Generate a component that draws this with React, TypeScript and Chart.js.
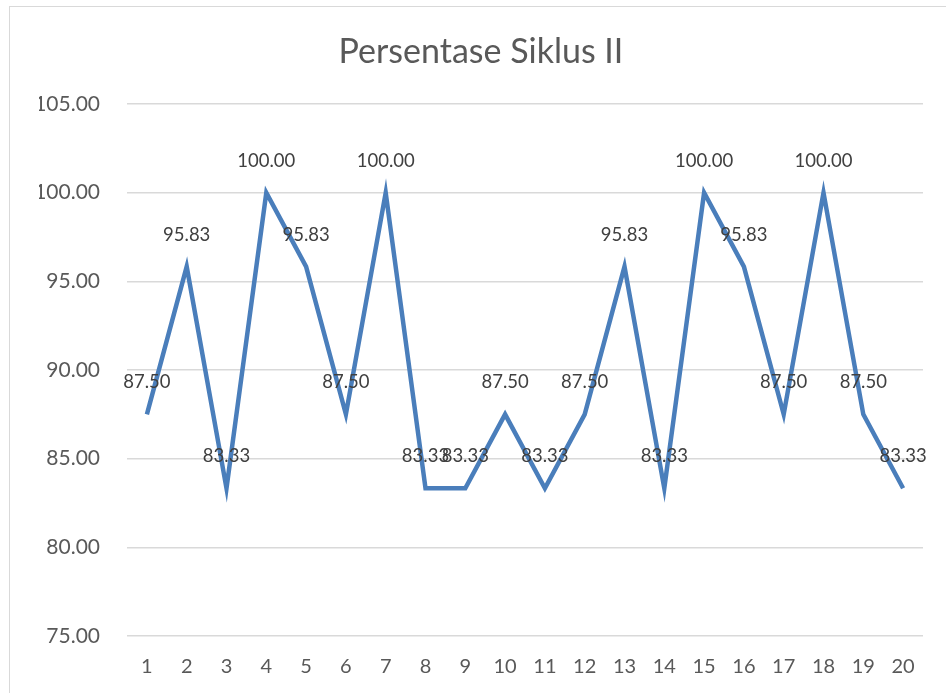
import React, { useEffect, useRef } from "react";
import { Chart, registerables } from "chart.js";

Chart.register(...registerables);

const categories = ["1","2","3","4","5","6","7","8","9","10","11","12","13","14","15","16","17","18","19","20"];
const values = [87.5, 95.83, 83.33, 100, 95.83, 87.5, 100, 83.33, 83.33, 87.5, 83.33, 87.5, 95.83, 83.33, 100, 95.83, 87.5, 100, 87.5, 83.33];
const titleText = "Persentase Siklus II";
const yMin = 75;
const yMax = 105;
const yStep = 5;

const FONT = "Lato, 'Open Sans', sans-serif";

const dataLabelPlugin = {
  id: "dataLabels",
  afterDatasetsDraw(chart: any) {
    const ctx = chart.ctx;
    const meta = chart.getDatasetMeta(0);
    ctx.save();
    ctx.font = `18.5px ${FONT}`;
    ctx.fillStyle = "#404040";
    ctx.textAlign = "center";
    ctx.textBaseline = "middle";
    meta.data.forEach((pt: any, i: number) => {
      const v = chart.data.datasets[0].data[i] as number;
      ctx.fillText(v.toFixed(2), pt.x, pt.y - 32);
    });
    ctx.restore();
  },
};

export default function App() {
  const ref = useRef<HTMLCanvasElement | null>(null);
  useEffect(() => {
    if (!ref.current) return;
    const chart = new Chart(ref.current, {
      type: "line",
      data: {
        labels: categories,
        datasets: [
          {
            data: values,
            borderColor: "#4a7ebb",
            borderWidth: 4.5,
            pointRadius: 0,
            tension: 0,
            fill: false,
          },
        ],
      },
      options: {
        responsive: false,
        animation: false,
        layout: { padding: { left: 39, right: 23, top: 0, bottom: 0 } },
        plugins: {
          legend: { display: false },
          tooltip: { enabled: false },
          title: {
            display: true,
            text: titleText,
            color: "#595959",
            font: { family: FONT, size: 34, weight: "normal" },
            padding: { top: 31.6, bottom: 31.6 },
          },
        },
        scales: {
          x: {
            offset: true,
            grid: { display: false, drawTicks: false },
            border: { display: false },
            ticks: {
              color: "#595959",
              font: { family: FONT, size: 20 },
              padding: 19,
              maxRotation: 0,
              autoSkip: false,
            },
            afterFit(scale: any) {
              scale.height = 57;
            },
          },
          y: {
            min: yMin,
            max: yMax,
            grid: { color: "#d9d9d9", lineWidth: 1.5, drawTicks: false },
            border: { display: false },
            ticks: {
              stepSize: yStep,
              color: "#595959",
              font: { family: FONT, size: 21 },
              padding: 27,
              callback: (v: any) => Number(v).toFixed(2),
            },
            afterFit(scale: any) {
              scale.width = 88;
            },
          },
        },
      },
      plugins: [dataLabelPlugin],
    });
    return () => chart.destroy();
  }, []);
  return (
    <div style={{ position: "fixed", left: 0, top: 0, width: 946, height: 693, background: "#fff" }}>
      <div
        style={{
          position: "absolute",
          left: 9,
          top: 6,
          width: 960,
          height: 720,
          border: "1.5px solid #d9d9d9",
        }}
      />
      <canvas ref={ref} width={946} height={693} style={{ position: "absolute", left: 0, top: 0 }} />
    </div>
  );
}
